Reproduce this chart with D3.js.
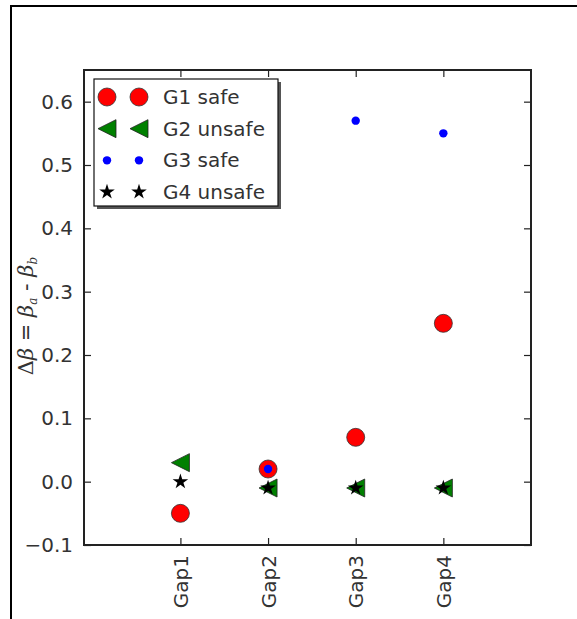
<!DOCTYPE html>
<html>
<head>
<meta charset="utf-8">
<script src="https://cdn.jsdelivr.net/npm/d3@7"></script>
<style>
  body { margin: 0; background: #fff; }
  text { font-family: "DejaVu Sans", sans-serif; fill: #333; }
</style>
</head>
<body>
<div id="chart"></div>
<script>
// gap categories along x
var gaps = ["Gap1", "Gap2", "Gap3", "Gap4"];
var gapPos = [1, 2, 3, 4];

// delta beta per group (null = no point)
var g1Safe   = [-0.05, 0.02, 0.07, 0.25];
var g2Unsafe = [0.03, -0.01, -0.01, -0.01];
var g3Safe   = [null, 0.02, 0.57, 0.55];
var g4Unsafe = [0.0, -0.01, -0.01, -0.01];

var yTicks = [-0.1, 0.0, 0.1, 0.2, 0.3, 0.4, 0.5, 0.6];

var width = 577, height = 619;
var plotLeft = 84, plotRight = 531, plotTop = 70, plotBottom = 545;

var svg = d3.select("#chart").append("svg")
  .attr("width", width)
  .attr("height", height);

// page frame (left + top)
svg.append("line").attr("x1", 11).attr("x2", 11).attr("y1", 5).attr("y2", height)
  .style("stroke", "#000").style("stroke-width", 2);
svg.append("line").attr("x1", 10).attr("x2", width).attr("y1", 6).attr("y2", 6)
  .style("stroke", "#000").style("stroke-width", 2);

var xScale = d3.scaleLinear().domain([-0.1, 5]).range([plotLeft, plotRight]);
var yScale = d3.scaleLinear().domain([-0.1, 0.65]).range([plotBottom, plotTop]);

// inward ticks on all four sides
var tickLen = 7;
var yAxisL = d3.axisLeft(yScale).tickValues(yTicks).tickSizeInner(-tickLen).tickSizeOuter(0)
  .tickPadding(11).tickFormat(function(d){ return d3.format(".1f")(d).replace("-", "\u2212"); });
var yAxisR = d3.axisRight(yScale).tickValues(yTicks).tickSizeInner(-tickLen).tickSizeOuter(0).tickFormat("");
var xAxisB = d3.axisBottom(xScale).tickValues(gapPos).tickSizeInner(-tickLen).tickSizeOuter(0)
  .tickFormat(function(d, i){ return gaps[i]; });
var xAxisT = d3.axisTop(xScale).tickValues(gapPos).tickSizeInner(-tickLen).tickSizeOuter(0).tickFormat("");

var gyl = svg.append("g").attr("transform", "translate(" + plotLeft + ",0)").call(yAxisL);
var gyr = svg.append("g").attr("transform", "translate(" + plotRight + ",0)").call(yAxisR);
var gxb = svg.append("g").attr("transform", "translate(0," + plotBottom + ")").call(xAxisB);
var gxt = svg.append("g").attr("transform", "translate(0," + plotTop + ")").call(xAxisT);

[gyl, gyr, gxb, gxt].forEach(function(g) {
  g.select(".domain").remove();
  g.selectAll(".tick line").style("stroke", "#222").style("stroke-width", 1.2);
});
gyl.selectAll(".tick text").style("font-size", "20px").style("fill", "#333")
  .style("font-family", "DejaVu Sans");
gxb.selectAll(".tick text")
  .style("font-size", "20px").style("fill", "#333").style("font-family", "DejaVu Sans")
  .attr("text-anchor", "end")
  .attr("dy", "0.35em")
  .attr("transform", "translate(0,10) rotate(-90)")
  .attr("x", 0).attr("y", 0);

// plot frame
svg.append("rect")
  .attr("x", plotLeft).attr("y", plotTop)
  .attr("width", plotRight - plotLeft).attr("height", plotBottom - plotTop)
  .style("fill", "none").style("stroke", "#222").style("stroke-width", 2);

// marker shapes
function triLeft(s) {
  return "M" + (-s) + ",0L" + s + "," + (-s) + "L" + s + "," + s + "Z";
}
var starPath = d3.symbol().type(d3.symbolStar).size(75)();

function pts(values) {
  return values.map(function(v, i){ return {x: gapPos[i], y: v}; })
    .filter(function(p){ return p.y !== null; });
}

var plot = svg.append("g");

// G1 safe: red circles
plot.selectAll("circle.g1").data(pts(g1Safe)).enter().append("circle")
  .attr("class", "g1")
  .attr("cx", function(d){ return xScale(d.x); })
  .attr("cy", function(d){ return yScale(d.y); })
  .attr("r", 9)
  .style("fill", "#ff0000").style("stroke", "#333").style("stroke-width", 0.8);

// G2 unsafe: green left triangles
plot.selectAll("path.g2").data(pts(g2Unsafe)).enter().append("path")
  .attr("class", "g2")
  .attr("d", triLeft(9))
  .attr("transform", function(d){ return "translate(" + xScale(d.x) + "," + yScale(d.y) + ")"; })
  .style("fill", "#008000").style("stroke", "#222").style("stroke-width", 0.8);

// G3 safe: small blue dots
plot.selectAll("circle.g3").data(pts(g3Safe)).enter().append("circle")
  .attr("class", "g3")
  .attr("cx", function(d){ return xScale(d.x); })
  .attr("cy", function(d){ return yScale(d.y); })
  .attr("r", 4.2)
  .style("fill", "#0000ff");

// G4 unsafe: black stars
plot.selectAll("path.g4").data(pts(g4Unsafe)).enter().append("path")
  .attr("class", "g4")
  .attr("d", starPath)
  .attr("transform", function(d){ return "translate(" + xScale(d.x) + "," + yScale(d.y) + ")"; })
  .style("fill", "#000");

// y label: Δβ = β_a - β_b
var ylab = svg.append("text")
  .attr("transform", "translate(33," + 316 + ") rotate(-90)")
  .attr("text-anchor", "middle")
  .style("font-size", "21px")
  .style("font-family", "DejaVu Serif");
ylab.append("tspan").text("\u0394");
ylab.append("tspan").style("font-style", "italic").text("\u03b2");
ylab.append("tspan").style("font-family", "DejaVu Sans").text(" = ");
ylab.append("tspan").style("font-style", "italic").text("\u03b2");
ylab.append("tspan").style("font-style", "italic").style("font-size", "12px").attr("dy", 4).text("a");
ylab.append("tspan").style("font-family", "DejaVu Sans").attr("dy", -4).text(" - ");
ylab.append("tspan").style("font-style", "italic").text("\u03b2");
ylab.append("tspan").style("font-style", "italic").style("font-size", "12px").attr("dy", 4).text("b");

// legend
var legendItems = ["G1 safe", "G2 unsafe", "G3 safe", "G4 unsafe"];
var lg = svg.append("g");
lg.append("rect").attr("x", 97).attr("y", 82).attr("width", 184).attr("height", 127)
  .style("fill", "#555");
lg.append("rect").attr("x", 94).attr("y", 79).attr("width", 184).attr("height", 127)
  .style("fill", "#fff").style("stroke", "#111").style("stroke-width", 1.2);

var rowY = d3.scalePoint().domain(legendItems).range([97, 192]);
var markX = [107, 139];

legendItems.forEach(function(name, k) {
  var y = rowY(name);
  markX.forEach(function(x) {
    if (k === 0) {
      lg.append("circle").attr("cx", x).attr("cy", y).attr("r", 9)
        .style("fill", "#ff0000").style("stroke", "#333").style("stroke-width", 0.8);
    } else if (k === 1) {
      lg.append("path").attr("d", triLeft(9)).attr("transform", "translate(" + x + "," + y + ")")
        .style("fill", "#008000").style("stroke", "#222").style("stroke-width", 0.8);
    } else if (k === 2) {
      lg.append("circle").attr("cx", x).attr("cy", y).attr("r", 4.2).style("fill", "#0000ff");
    } else {
      lg.append("path").attr("d", starPath).attr("transform", "translate(" + x + "," + y + ")")
        .style("fill", "#000");
    }
  });
  lg.append("text").attr("x", 163).attr("y", y).attr("dy", "0.35em")
    .style("font-size", "20px").text(name);
});
</script>
</body>
</html>
